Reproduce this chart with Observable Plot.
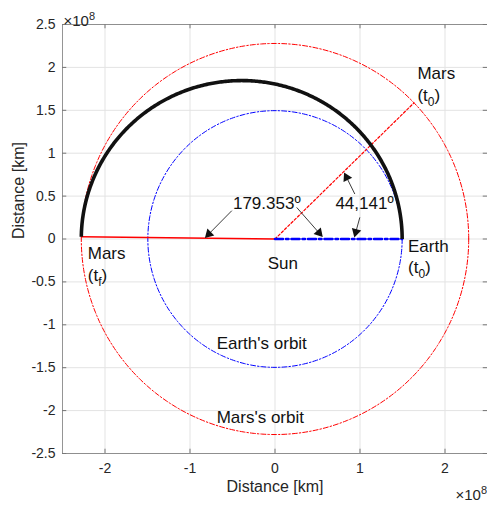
<!DOCTYPE html>
<html>
<head>
<meta charset="utf-8">
<script src="https://cdn.jsdelivr.net/npm/d3@7"></script>
<script src="https://cdn.jsdelivr.net/npm/@observablehq/plot@0.6"></script>
<style>
  html, body { margin: 0; padding: 0; background: #fff; overflow: hidden; }
  #chart svg { display: block; }
</style>
</head>
<body>
<div id="chart"></div>
<script>
// Earth → Mars Hohmann transfer, distances in km (axes shown in units of 1e8 km)
const axisUnit = 1e8;
const earthOrbitRadius = 1.496e8;   // km
const marsOrbitRadius = 2.279e8;    // km
const marsStartAngle = 44.141;      // deg, Mars at departure (t0)
const marsFinalAngle = 179.353;     // deg, Mars at arrival (tf)

const xTicks = [-2, -1, 0, 1, 2];
const yTicks = [-2.5, -2, -1.5, -1, -0.5, 0, 0.5, 1, 1.5, 2, 2.5];

// Body labels, left-aligned at (x, y) in 1e8 km
const bodyText = ["Mars", "(t_0)", "Earth", "(t_0)", "Mars", "(t_f)"];
const bodyX    = [1.675, 1.675, 1.565, 1.565, -2.203, -2.203];
const bodyY    = [1.923, 1.670, -0.086, -0.331, -0.175, -0.428];

// Centred labels
const nameText = ["Sun", "Earth's orbit", "Mars's orbit"];
const nameX    = [0.092, -0.156, -0.173];
const nameY    = [-0.291, -1.224, -2.086];

// Angle callouts: label and the arrows pointing at the two rays
const angleText = ["179.353º", "44,141º"];
const angleX = [-0.097, 1.053];
const angleY = [0.415, 0.408];
const arrowFrom = [[-0.508, 0.330], [0.255, 0.368], [0.939, 0.524], [0.998, 0.252]];
const arrowTo   = [[-0.810, 0.027], [0.548, 0.038], [0.822, 0.758], [0.939, 0.038]];

const deg = Math.PI / 180;
const circle = r => d3.range(0, 361).map(a => ({x: r * Math.cos(a * deg) / axisUnit, y: r * Math.sin(a * deg) / axisUnit}));

// transfer conic with the Sun at the focus: perihelion at Earth, aphelion at Mars
const a = (earthOrbitRadius + marsOrbitRadius) / 2;
const e = (marsOrbitRadius - earthOrbitRadius) / (marsOrbitRadius + earthOrbitRadius);
const p = a * (1 - e * e);
const transfer = d3.range(0, marsFinalAngle + 0.25, 0.5).map(t => Math.min(t, marsFinalAngle)).map(t => {
  const r = p / (1 + e * Math.cos(t * deg));
  return {x: r * Math.cos(t * deg) / axisUnit, y: r * Math.sin(t * deg) / axisUnit};
});

const ray = (r, ang) => [{x: 0, y: 0}, {x: r * Math.cos(ang * deg) / axisUnit, y: r * Math.sin(ang * deg) / axisUnit}];

const bodies = bodyText.map((t, i) => ({t, x: bodyX[i], y: bodyY[i]}));
const names = nameText.map((t, i) => ({t, x: nameX[i], y: nameY[i]}));
const angles = angleText.map((t, i) => ({t, x: angleX[i], y: angleY[i]}));

// arrow shafts, plus a filled triangular head set just behind each tip
const headBack = 0.045;
const arrows = arrowFrom.map((f, i) => {
  const [x2, y2] = arrowTo[i];
  const dx = x2 - f[0], dy = y2 - f[1], len = Math.hypot(dx, dy);
  return {
    x1: f[0], y1: f[1], x2, y2,
    hx: x2 - dx / len * headBack, hy: y2 - dy / len * headBack,
    angle: Math.atan2(dx, dy) / deg
  };
});

const font = "'Liberation Sans', Arial, Helvetica, sans-serif";
const ink = "#262626";

const chart = Plot.plot({
  width: 487,
  height: 506,
  marginLeft: 62,
  marginRight: 0,
  marginTop: 24,
  marginBottom: 53,
  style: {fontFamily: font, fontSize: "14px", color: ink, background: "#fff"},
  x: {domain: [-2.5, 2.5], ticks: xTicks, tickSize: 0, tickPadding: 10, tickFormat: d => String(d), label: null},
  y: {domain: [-2.5, 2.5], ticks: yTicks, tickSize: 0, tickPadding: 7, tickFormat: d => String(d), label: null},
  marks: [
    // grid
    Plot.ruleX(xTicks, {stroke: "#e3e3e3", strokeWidth: 1}),
    Plot.ruleY(yTicks, {stroke: "#e3e3e3", strokeWidth: 1}),
    // inward tick marks on all four sides
    Plot.ruleX(xTicks, {y1: -2.5, y2: -2.45, stroke: ink, strokeWidth: 0.6}),
    Plot.ruleX(xTicks, {y1: 2.5, y2: 2.45, stroke: ink, strokeWidth: 0.6}),
    Plot.ruleY(yTicks, {x1: -2.5, x2: -2.45, stroke: ink, strokeWidth: 0.6}),
    Plot.ruleY(yTicks, {x1: 2.5, x2: 2.45, stroke: ink, strokeWidth: 0.6}),
    // orbits
    Plot.line(circle(marsOrbitRadius), {x: "x", y: "y", stroke: "#ff0000", strokeWidth: 1, strokeDasharray: "5,2,1.5,2"}),
    Plot.line(circle(earthOrbitRadius), {x: "x", y: "y", stroke: "#0000ff", strokeWidth: 1, strokeDasharray: "5,2,1.5,2"}),
    // rays from the Sun
    Plot.line(ray(marsOrbitRadius, marsStartAngle), {x: "x", y: "y", stroke: "#ff0000", strokeWidth: 1.2, strokeDasharray: "2.5,2"}),
    Plot.line(ray(marsOrbitRadius, marsFinalAngle), {x: "x", y: "y", stroke: "#ff0000", strokeWidth: 1.4}),
    Plot.line(ray(earthOrbitRadius, 0), {x: "x", y: "y", stroke: "#0000ff", strokeWidth: 2.6, strokeDasharray: "8,3,2.5,3"}),
    // transfer trajectory
    Plot.line(transfer, {x: "x", y: "y", stroke: "#111", strokeWidth: 3.6, strokeLinecap: "butt"}),
    // angle callouts
    Plot.link(arrows, {x1: "x1", y1: "y1", x2: "hx", y2: "hy", stroke: ink, strokeWidth: 0.9}),
    Plot.dot(arrows, {x: "hx", y: "hy", symbol: "triangle", r: 3.6, rotate: "angle", fill: "#111", stroke: "none"}),
    Plot.text(angles, {x: "x", y: "y", text: "t", fontSize: 17, fill: "#111"}),
    // labels
    Plot.text(bodies, {x: "x", y: "y", text: "t", textAnchor: "start", fontSize: 17, fill: "#111"}),
    Plot.text(names, {x: "x", y: "y", text: "t", fontSize: 17, fill: "#111"}),
    // axes box
    Plot.ruleX([-2.5], {stroke: "#7a7a7a", strokeWidth: 0.8}),
    Plot.ruleY([-2.5, 2.5], {stroke: "#7a7a7a", strokeWidth: 0.8}),
    // axis titles and exponent markers
    Plot.text(["Distance [km]"], {frameAnchor: "bottom", dy: 38, fontSize: 16, fill: ink}),
    Plot.text(["Distance [km]"], {frameAnchor: "left", dx: -44, rotate: -90, fontSize: 16, fill: ink}),
    Plot.text(["×10^8"], {frameAnchor: "top-left", textAnchor: "start", dx: 1, dy: -9, fontSize: 15, fill: ink}),
    Plot.text(["×10^8"], {frameAnchor: "bottom-right", textAnchor: "start", dx: -32, dy: 46, fontSize: 15, fill: ink})
  ]
});

// turn "_x" / "^x" into subscript / superscript tspans
chart.querySelectorAll("text").forEach(node => {
  if (node.querySelector("tspan")) return;
  const s = node.textContent;
  const m = s.match(/^(.*?)([_^])(.)(.*)$/);
  if (!m) return;
  const ns = "http://www.w3.org/2000/svg";
  node.textContent = "";
  node.appendChild(document.createTextNode(m[1]));
  const sup = m[2] === "^";
  const small = document.createElementNS(ns, "tspan");
  small.setAttribute("font-size", sup ? "11" : "12");
  small.setAttribute("dy", sup ? "-6" : "5");
  small.textContent = m[3];
  node.appendChild(small);
  if (m[4]) {
    const rest = document.createElementNS(ns, "tspan");
    rest.setAttribute("dy", sup ? "6" : "-5");
    rest.textContent = m[4];
    node.appendChild(rest);
  }
});

document.getElementById("chart").appendChild(chart);
</script>
</body>
</html>
